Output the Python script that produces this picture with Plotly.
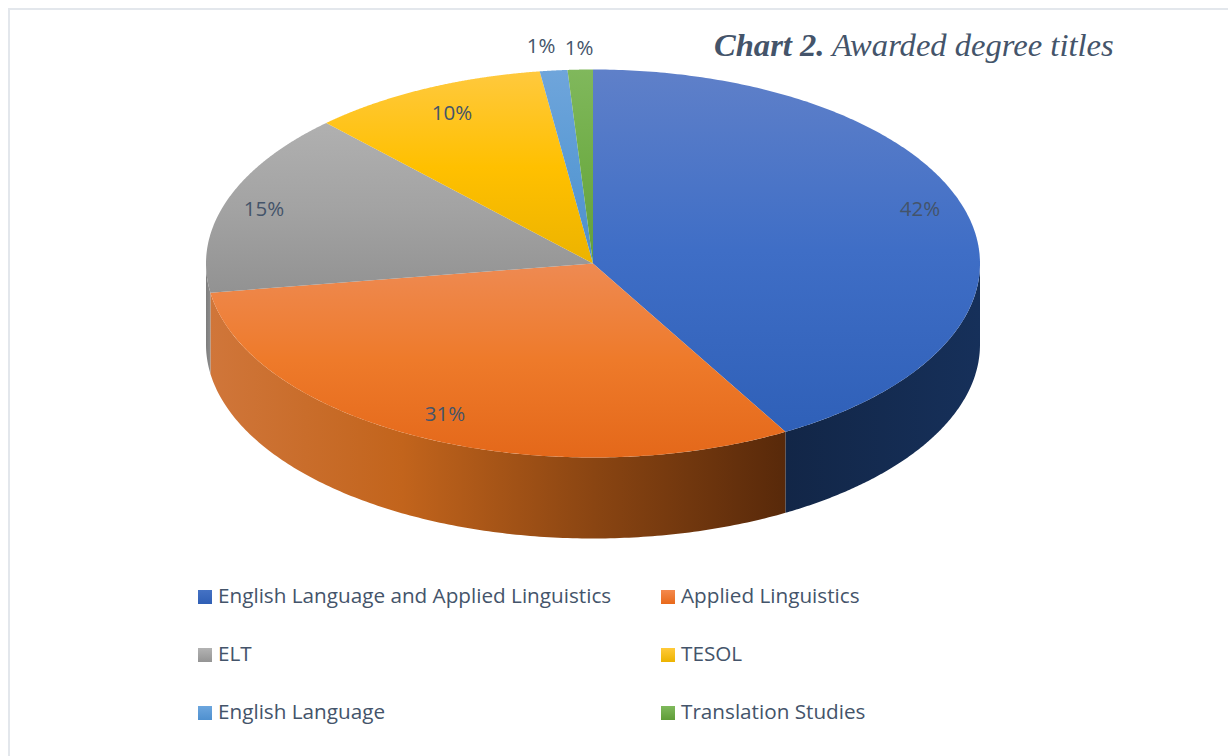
import numpy as np
import plotly.graph_objects as go

# ---- data ----
categories = ["English Language and Applied Linguistics", "Applied Linguistics", "ELT",
              "TESOL", "English Language", "Translation Studies"]
shares = [41.72, 30.88, 15.3, 9.9, 1.15, 1.05]

# ---- styles ----
W, H = 1228, 756
CX, CY, RX, RY, DEPTH = 593, 263.5, 387, 194, 81
TEXT = "#44546a"
top_scales = [
    ["#5f80c9", "#3f6ec6", "#2f60b8"],
    ["#ee8a52", "#ee7a2a", "#e4681a"],
    ["#b0b0b0", "#a3a3a3", "#929292"],
    ["#ffc93e", "#ffc000", "#ecb300"],
    ["#6fa5db", "#5b9bd5", "#4f8fca"],
    ["#80b85c", "#70ad47", "#639f3c"],
]
side_scales = [
    ["#122647", "#16305a"],
    ["#d0763a", "#c2641c", "#8a4512", "#58290a"],
    ["#7d7d7d", "#8c8c8c"],
]
legend_grad = [("#4472c4", "#2f5fb5"), ("#f4894d", "#e8691a"), ("#b3b3b3", "#949494"),
               ("#ffca3a", "#ecb300"), ("#6ca6de", "#4f90cf"), ("#7fb95c", "#5f9d38")]
label_pos = [(920, 211), (445, 416), (264, 211), (452, 115), (541, 48), (579, 50)]
legend_pos = [(205, 597), (668, 597), (205, 655), (668, 655), (205, 713), (668, 713)]
LEGEND_TEXT_DX = 13
LEGEND_TEXT_DY = 1


def fx(px):
    return (px - CX) / RX


def fy(py):
    return (CY - py) / RY


fractions = np.array(shares) / sum(shares)
edges = np.concatenate([[0], np.cumsum(fractions)]) * 2 * np.pi
dz = DEPTH / RY

fig = go.Figure()


def scale(cols):
    n = len(cols) - 1
    return [[i / n, c] for i, c in enumerate(cols)]


# side walls (front half of the disc only)
for i in range(3):
    a = max(edges[i], np.pi / 2)
    b = min(edges[i + 1], 3 * np.pi / 2)
    if b <= a:
        continue
    t = np.linspace(a, b, 160)
    x, y = np.sin(t), np.cos(t)
    xs = np.concatenate([x, x[::-1], x[:1]])
    ys = np.concatenate([y, y[::-1] - dz, y[:1]])
    fig.add_trace(go.Scatter(
        x=xs, y=ys, mode="none", fill="toself",
        fillgradient=dict(type="horizontal", colorscale=scale(side_scales[i]),
                          start=float(x.min()), stop=float(x.max())),
        showlegend=False, hoverinfo="skip"))

# top face
for i in range(len(shares)):
    t = np.linspace(edges[i], edges[i + 1], 240)
    x, y = np.sin(t), np.cos(t)
    xs = np.concatenate([[0], x, [0]])
    ys = np.concatenate([[0], y, [0]])
    fig.add_trace(go.Scatter(
        x=xs, y=ys, mode="none", fill="toself",
        fillgradient=dict(type="vertical", colorscale=scale(top_scales[i][::-1]),
                          start=float(ys.min()), stop=float(ys.max())),
        showlegend=False, hoverinfo="skip"))

# percentage labels
fig.add_trace(go.Scatter(
    x=[fx(p[0]) for p in label_pos], y=[fy(p[1]) for p in label_pos],
    mode="text", text=[f"{round(v)}%" for v in shares],
    textposition="middle center",
    textfont=dict(family="Open Sans", size=20.5, color=TEXT),
    showlegend=False, hoverinfo="skip"))

# legend
for name, pos, (c1, c2) in zip(categories, legend_pos, legend_grad):
    fig.add_trace(go.Scatter(
        x=[fx(pos[0])], y=[fy(pos[1])], mode="markers",
        marker=dict(symbol="square", size=14, color=c1, line_width=0,
                    gradient=dict(type="vertical", color=c2)),
        showlegend=False, hoverinfo="skip", cliponaxis=False))
    fig.add_trace(go.Scatter(
        x=[fx(pos[0] + LEGEND_TEXT_DX)], y=[fy(pos[1] + LEGEND_TEXT_DY)], mode="text",
        text=[name], textposition="middle right",
        textfont=dict(family="Open Sans", size=20.7, color=TEXT),
        showlegend=False, hoverinfo="skip", cliponaxis=False))

fig.update_layout(
    width=W, height=H, margin=dict(l=0, r=0, t=0, b=0),
    paper_bgcolor="white", plot_bgcolor="white", showlegend=False, hovermode=False,
    xaxis=dict(range=[fx(0), fx(W)], visible=False, fixedrange=True),
    yaxis=dict(range=[fy(H), fy(0)], visible=False, fixedrange=True),
    shapes=[
        dict(type="line", xref="paper", yref="paper", x0=9 / W, x1=9 / W, y0=0, y1=1 - 9 / H,
             line=dict(color="#e3e7ec", width=2)),
        dict(type="line", xref="paper", yref="paper", x0=8 / W, x1=1, y0=1 - 9 / H, y1=1 - 9 / H,
             line=dict(color="#e3e7ec", width=2)),
    ],
    annotations=[dict(
        xref="paper", yref="paper", x=712 / W, y=1 - 45 / H, xanchor="left", yanchor="middle",
        showarrow=False,
        text="<b><i>Chart 2.</i></b><i> Awarded degree titles</i>",
        font=dict(family="Liberation Serif", size=32.6, color=TEXT),
    )],
)

fig.write_html("out.html", config=dict(displayModeBar=False),
               post_script="document.body.style.margin='0';document.body.style.overflow='hidden';")
